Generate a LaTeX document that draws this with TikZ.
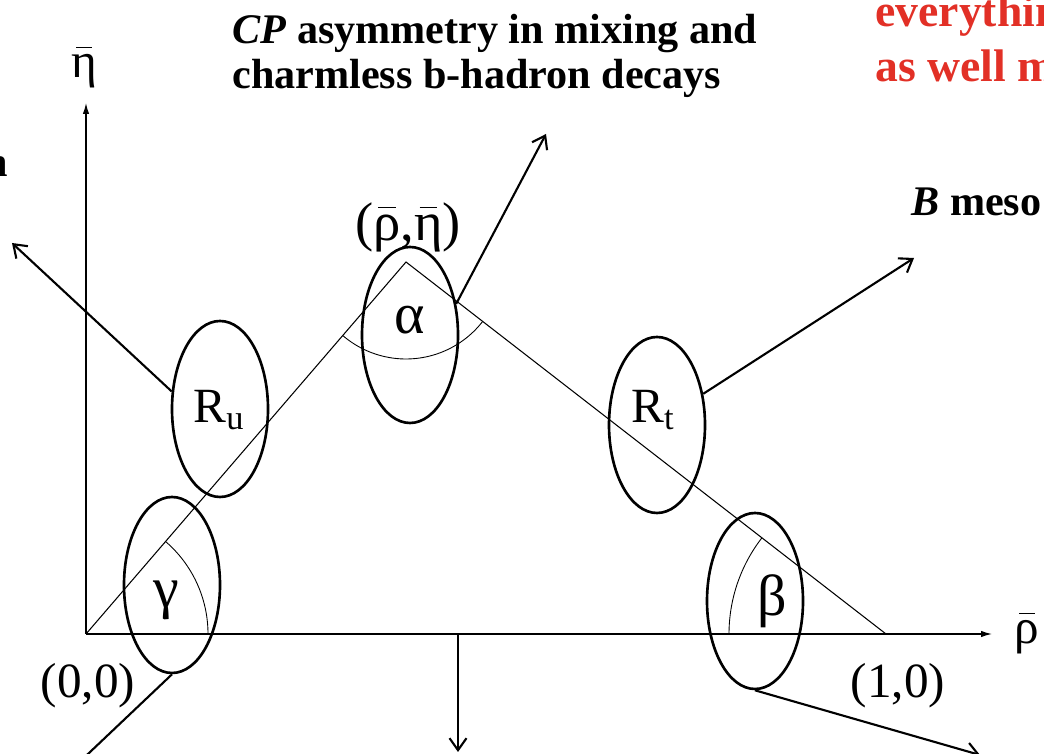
\documentclass[tikz,border=0pt]{standalone}
\usepackage{fontspec}
\setmainfont{Liberation Serif}
\usetikzlibrary{shapes.geometric, arrows.meta, positioning}
\definecolor{notered}{RGB}{226,48,38}
\newcommand{\barred}[1]{\ooalign{#1\cr\hidewidth\raisebox{0.6em}{\rule{0.32em}{0.03em}}\hidewidth\cr}}

\begin{document}
\begin{tikzpicture}[x=2cm, y=2cm,
    oval/.style={ellipse, draw, line width=1.5pt, minimum width=1.92cm, minimum height=3.52cm, inner sep=0pt},
    pointer/.style={line width=1.2pt, -{Straight Barb[length=2.4mm, width=3.4mm]}},
    axisline/.style={line width=0.8pt, -{Latex[length=2.2mm, width=1.3mm]}},
    mathlbl/.style={font={\fontsize{28}{30}\selectfont}, inner sep=0pt},
    greeklbl/.style={font={\fontsize{33}{35}\selectfont}, inner sep=0pt},
    heading/.style={font={\bfseries\fontsize{24}{26}\selectfont}, inner sep=0pt}]
    % Fix the frame
    \useasboundingbox (0,0) rectangle (10.44,7.54);
    \clip (0,0) rectangle (10.44,7.54);

    % Corners and axis ends
    \coordinate (o) at (0.86,1.20);
    \coordinate (apex) at (4.06,4.92);
    \coordinate (one) at (8.86,1.20);
    \coordinate (etatip) at (0.86,6.51);
    \coordinate (rhotip) at (9.92,1.20);
    \coordinate (mid) at (4.58,1.20);

    % Draw axes
    \draw[axisline] (o) -- (etatip);
    \draw[axisline] (o) -- (rhotip);

    % Draw triangle
    \draw[line width=0.6pt] (o) -- (apex) -- (one);

    % Angle arcs
    \draw[line width=0.5pt] ([shift={(0:1.22)}]o) arc[start angle=0, end angle=49.3, radius=1.22];
    \draw[line width=0.5pt] ([shift={(229.3:0.97)}]apex) arc[start angle=229.3, end angle=322.2, radius=0.97];
    \draw[line width=0.5pt] ([shift={(180:1.57)}]one) arc[start angle=180, end angle=142.2, radius=1.57];

    % Ellipses
    \node[oval] (gam) at (1.72,1.69) {};
    \node[oval] (ru) at (2.20,3.45) {};
    \node[oval] (alpha) at (4.10,4.19) {};
    \node[oval] (rt) at (6.57,3.29) {};
    \node[oval] (beta) at (7.55,1.53) {};

    % Add labels
    \node[greeklbl] (gamlbl) at (1.66,1.54) {γ};
    \node[greeklbl] (alphalbl) at (4.10,4.34) {α};
    \node[greeklbl] (betalbl) at (7.72,1.53) {β};
    \node[mathlbl, anchor=base] (rulbl) at (2.19,3.31) {R\textsubscript{u}};
    \node[mathlbl, anchor=base] (rtlbl) at (6.53,3.31) {R\textsubscript{t}};
    \node[mathlbl, anchor=base] (etalbl) at (0.84,6.76) {\barred{η}};
    \node[mathlbl, anchor=base] (rholbl) at (10.27,1.10) {\barred{ρ}};
    \node[mathlbl, anchor=base] (zerolbl) at (0.88,0.56) {(0,0)};
    \node[mathlbl, anchor=base] (onelbl) at (8.98,0.56) {(1,0)};
    \node[mathlbl, anchor=base, font={\fontsize{31}{33}\selectfont}] (apexlbl) at (4.08,5.13) {(\barred{ρ},\barred{η})};

    % Headings
    \node[heading, anchor=base west] (cp1) at (2.32,7.10) {\textit{CP} asymmetry in mixing and};
    \node[heading, anchor=base west] (cp2) at (2.32,6.65) {charmless b-hadron decays};
    \node[heading, anchor=base west] (bmes) at (9.11,5.38) {\textit{B} meso};
    \node[heading, anchor=base east] (leftn) at (0.08,5.77) {n};
    \node[heading, anchor=base west, text=notered, font={\bfseries\fontsize{26}{28}\selectfont}] (red1) at (8.75,7.27) {everythin};
    \node[heading, anchor=base west, text=notered, font={\bfseries\fontsize{26}{28}\selectfont}] (red2) at (8.75,6.72) {as well m};

    % Arrow ends
    \coordinate (ruend) at (0.12,5.11);
    \coordinate (alphaend) at (5.46,6.20);
    \coordinate (rtend) at (9.14,4.96);
    \coordinate (gamend) at (0.50,-0.36);
    \coordinate (midend) at (4.58,0.02);
    \coordinate (betaend) at (9.80,-0.01);

    % Draw pointers
    \draw[pointer] (ru.160) -- (ruend);
    \draw[pointer] (alpha.34) -- (alphaend);
    \draw[pointer] (rt.34) -- (rtend);
    \draw[pointer] (gam.south) -- (gamend);
    \draw[pointer] (mid) -- (midend);
    \draw[pointer] (beta.south) -- (betaend);
\end{tikzpicture}
\end{document}
